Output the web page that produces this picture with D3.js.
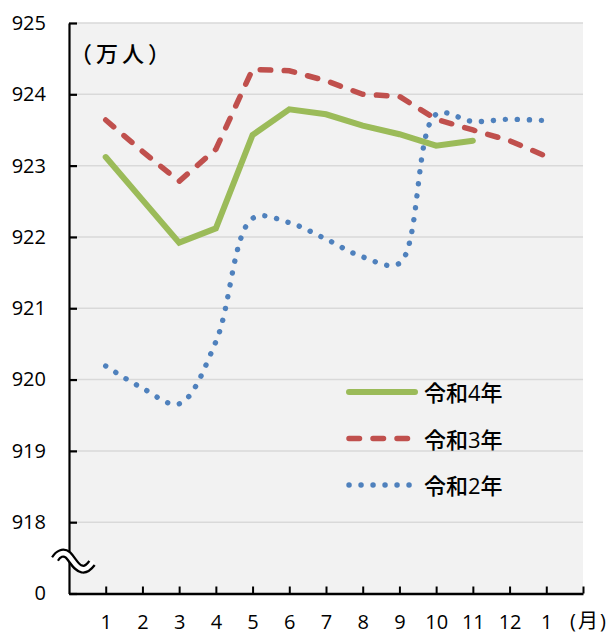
<!DOCTYPE html>
<html>
<head>
<meta charset="utf-8">
<script src="https://cdn.jsdelivr.net/npm/d3@7/dist/d3.min.js"></script>
<style>
  html, body { margin: 0; padding: 0; background: #ffffff; }
  svg { display: block; }
  text { font-family: "Open Sans", "Noto Sans CJK JP", sans-serif; fill: #000; }
</style>
</head>
<body>
<svg id="chart" width="613" height="635"></svg>
<script>
// ---- data ----
const months = ["1","2","3","4","5","6","7","8","9","10","11","12","1"];
const yTicks = [917, 918, 919, 920, 921, 922, 923, 924, 925];
const yTickLabels = ["0", "918", "919", "920", "921", "922", "923", "924", "925"];
const seriesNames = ["令和4年", "令和3年", "令和2年"];
const r4 = [923.12, 922.52, 921.92, 922.12, 923.43, 923.79, 923.72, 923.56, 923.44, 923.28, 923.35];
const r3 = [923.64, 923.20, 922.78, 923.23, 924.35, 924.33, 924.19, 924.00, 923.97, 923.65, 923.50, 923.35, 923.13];
const r2 = [920.19, 919.88, 919.66, 920.53, 922.26, 922.20, 921.97, 921.72, 921.63, 923.72, 923.62, 923.65, 923.63];
const unitLabel = "（万人）";
const monthUnit = "(月)";

// ---- layout ----
const svg = d3.select("#chart");
const L = 69, R = 583, T = 23, B = 593.5;
const x = d3.scaleLinear().domain([0, 14]).range([L, R]);
const y = d3.scaleLinear().domain([917, 925]).range([B, T]);

// plot background
svg.append("rect").attr("x", L).attr("y", T).attr("width", R - L).attr("height", B - T).attr("fill", "#f2f2f2");

// gridlines
svg.append("g").selectAll("line").data(yTicks.slice(1)).join("line")
  .attr("x1", L).attr("x2", R).attr("y1", d => y(d)).attr("y2", d => y(d))
  .attr("stroke", "#d9d9d9").attr("stroke-width", 1.5);

// series
const styles = [
  { data: r4, color: "#9bbb59", width: 6, dash: null, cap: "round", curve: d3.curveLinear },
  { data: r3, color: "#c0504d", width: 5.5, dash: "10.5 13.5", cap: "round", curve: d3.curveLinear },
  { data: r2, color: "#4f81bd", width: 5.4, dash: "0.1 11.9", cap: "round", curve: d3.curveCatmullRom.alpha(0.5) }
];
[2, 1, 0].forEach(i => {
  const s = styles[i];
  const line = d3.line().x((d, k) => x(k + 1)).y(d => y(d)).curve(s.curve);
  svg.append("path").datum(s.data)
    .attr("d", line)
    .attr("fill", "none")
    .attr("stroke", s.color)
    .attr("stroke-width", s.width)
    .attr("stroke-linecap", s.cap)
    .attr("stroke-linejoin", "miter")
    .attr("stroke-dasharray", s.dash);
});

// y axis
const yAxis = d3.axisLeft(y).tickValues(yTicks)
  .tickFormat((d, i) => yTickLabels[i])
  .tickSizeInner(-8).tickSizeOuter(0).tickPadding(23);
const gy = svg.append("g").attr("transform", `translate(${L},0)`).call(yAxis);
gy.attr("font-family", null).attr("font-size", null);
gy.select(".domain").attr("stroke", "#000").attr("stroke-width", 2.2);
gy.selectAll(".tick line").attr("stroke", "#000").attr("stroke-width", 2.2);
gy.selectAll(".tick text").style("font-size", "20px").attr("fill", "#000");

// x axis
const xAxis = d3.axisBottom(x).tickValues(d3.range(1, 15))
  .tickFormat(d => d <= months.length ? months[d - 1] : "")
  .tickSizeInner(-7).tickSizeOuter(0).tickPadding(21);
const gx = svg.append("g").attr("transform", `translate(0,${B})`).call(xAxis);
gx.attr("font-family", null).attr("font-size", null);
gx.select(".domain").attr("stroke", "#000").attr("stroke-width", 2.5);
gx.selectAll(".tick line").attr("stroke", "#000").attr("stroke-width", 2);
gx.selectAll(".tick text").style("font-size", "20px").attr("fill", "#000");

// axis break symbol
const wave = "M55,555 C58,550 63,547 68,551 C73,556 76,564 82,565 C86,566 89,563 92,559";
svg.append("path").attr("d", wave).attr("transform", "translate(0,4)")
  .attr("fill", "none").attr("stroke", "#000").attr("stroke-width", 9).attr("stroke-linecap", "butt");
svg.append("path").attr("d", wave).attr("transform", "translate(0,4)")
  .attr("fill", "none").attr("stroke", "#fff").attr("stroke-width", 4.5).attr("stroke-linecap", "square");

// unit labels
svg.append("text").attr("x", 70).attr("y", 53).attr("dominant-baseline", "central")
  .style("font-size", "22px").style("font-weight", 500).style("letter-spacing", "4px").text(unitLabel);
svg.append("text").attr("x", 570).attr("y", 620).attr("dominant-baseline", "central")
  .style("font-size", "20px").style("letter-spacing", "2px").text(monthUnit);

// legend
const legendY = [392, 438.5, 485];
styles.forEach((s, i) => {
  svg.append("line").attr("x1", 349).attr("x2", 415).attr("y1", legendY[i]).attr("y2", legendY[i])
    .attr("stroke", s.color).attr("stroke-width", s.width)
    .attr("stroke-linecap", s.cap).attr("stroke-dasharray", s.dash);
  svg.append("text").attr("x", 424).attr("y", legendY[i]).attr("dominant-baseline", "central")
    .style("font-size", "22px").style("font-weight", 500).text(seriesNames[i]);
});
</script>
</body>
</html>
